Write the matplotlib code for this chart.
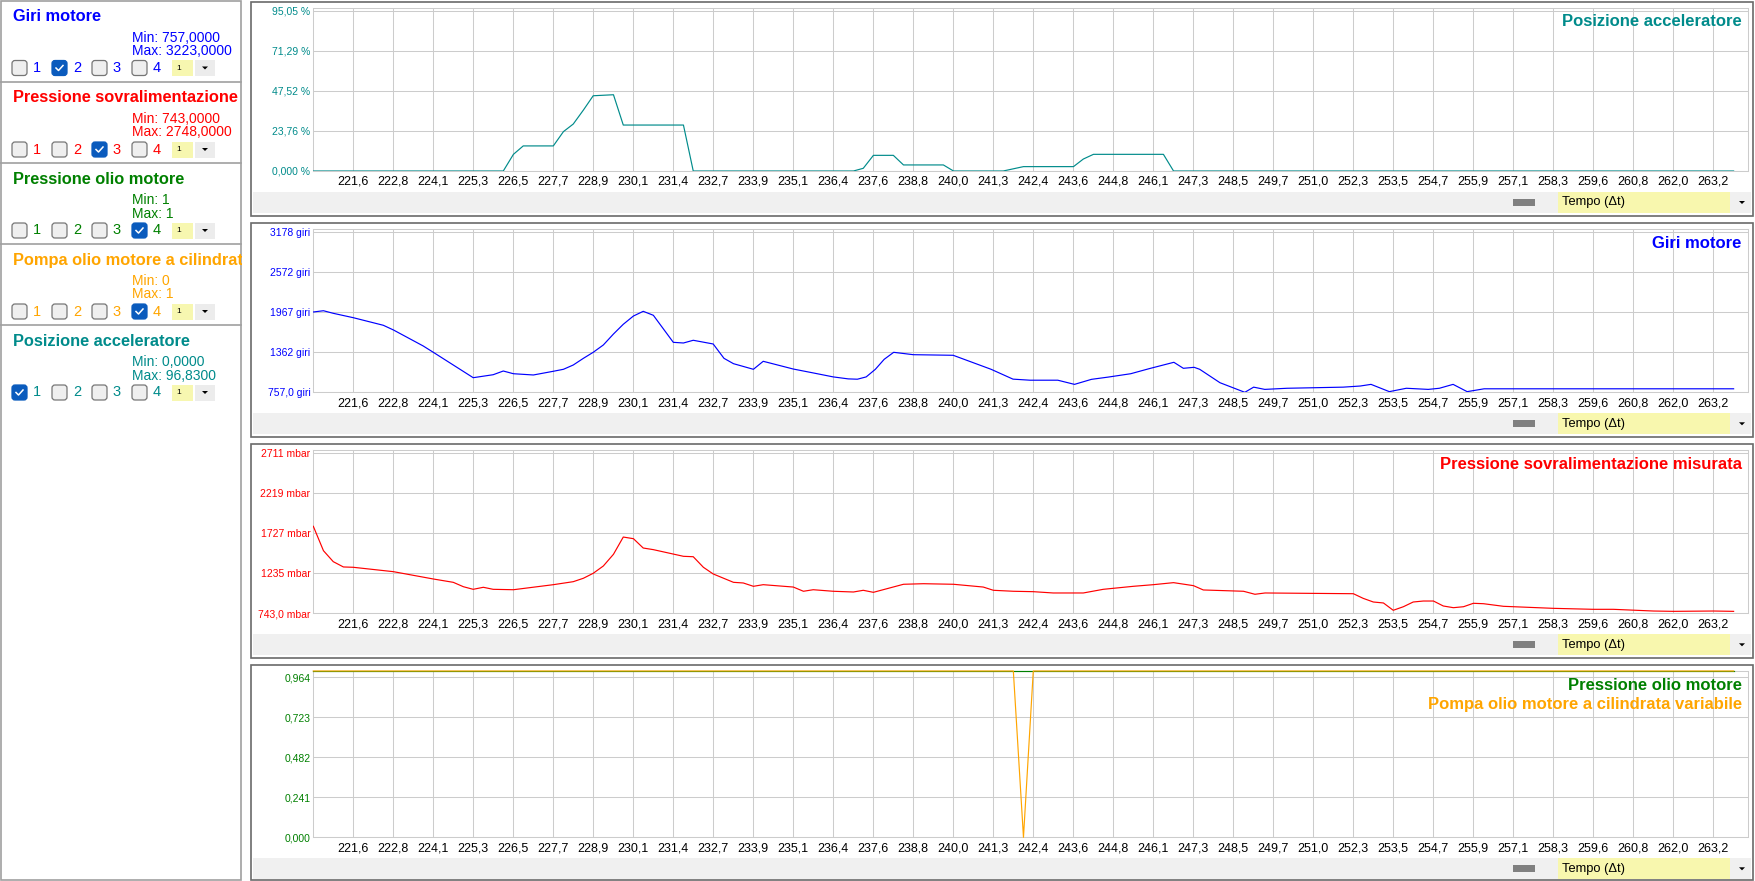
import matplotlib
matplotlib.use('Agg')
import matplotlib.pyplot as plt
from matplotlib.patches import Rectangle, FancyBboxPatch, Polygon
from matplotlib.transforms import ScaledTranslation

plt.rcParams['font.family'] = ['Liberation Sans', 'DejaVu Sans']

# ---- data ----
TICK_LABELS = ['221,6', '222,8', '224,1', '225,3', '226,5', '227,7', '228,9', '230,1', '231,4',
               '232,7', '233,9', '235,1', '236,4', '237,6', '238,8', '240,0', '241,3', '242,4',
               '243,6', '244,8', '246,1', '247,3', '248,5', '249,7', '251,0', '252,3', '253,5',
               '254,7', '255,9', '257,1', '258,3', '259,6', '260,8', '262,0', '263,2']
T_MIN, T_MAX = 220.38, 264.27

# Posizione acceleratore (%)
acc_t = [220.39, 226.20, 226.51, 226.81, 227.73, 228.04, 228.34, 228.65, 228.95, 229.57, 229.87,
         231.71, 232.01, 236.91, 237.21, 237.52, 238.13, 238.44, 239.66, 239.97, 241.49, 242.11,
         243.64, 243.94, 244.25, 246.39, 246.70, 263.83]
acc_v = [0, 0, 9.9, 14.9, 14.9, 23.4, 27.9, 36.2, 44.7, 45.3, 27.3,
         27.3, 0, 0, 1.6, 9.3, 9.3, 3.6, 3.6, 0, 0, 2.6,
         2.6, 7.1, 9.9, 9.9, 0, 0]

# Giri motore (giri)
rpm_t = [220.39, 220.70, 221.00, 221.61, 222.53, 222.84, 223.75, 224.06, 225.28, 225.89, 226.20,
         226.51, 227.12, 227.73, 228.04, 228.34, 228.65, 228.95, 229.26, 229.57, 229.87, 230.18,
         230.48, 230.79, 231.10, 231.40, 231.71, 232.01, 232.62, 232.95, 233.24, 233.85, 234.15,
         235.07, 235.68, 236.29, 236.75, 237.03, 237.30, 237.58, 237.85, 238.14, 238.74, 239.96,
         241.12, 241.79, 242.31, 243.16, 243.67, 244.19, 244.70, 245.39, 245.95, 246.71, 247.00,
         247.33, 247.50, 248.12, 248.88, 249.15, 249.49, 250.17, 251.89, 252.41, 252.74, 253.30,
         253.82, 254.49, 254.83, 255.25, 255.68, 256.20, 258.73, 263.83]
rpm_v = [1972, 1991, 1952, 1886, 1771, 1700, 1458, 1362, 978, 1023, 1079,
         1038, 1019, 1075, 1105, 1170, 1271, 1362, 1473, 1639, 1786, 1911,
         1982, 1922, 1714, 1513, 1503, 1544, 1488, 1271, 1190, 1105, 1226,
         1109, 1050, 990, 960, 955, 990, 1105, 1256, 1362, 1326, 1317,
         1105, 956, 940, 940, 877, 953, 987, 1038, 1114, 1211, 1120,
         1135, 1105, 902, 757, 835, 801, 818, 835, 852, 877, 767,
         818, 801, 818, 877, 767, 810, 810, 810]

# Pressione sovralimentazione misurata (mbar)
prs_t = [220.39, 220.70, 221.00, 221.31, 221.61, 222.84, 224.06, 224.67, 224.98, 225.28, 225.59,
         225.89, 226.51, 227.73, 228.34, 228.65, 228.95, 229.26, 229.57, 229.87, 230.18, 230.48,
         230.79, 231.71, 232.01, 232.32, 232.62, 233.24, 233.54, 233.85, 234.15, 235.07, 235.38,
         235.68, 236.29, 236.91, 237.21, 237.52, 238.44, 239.05, 239.97, 240.88, 241.19, 241.80,
         242.41, 243.02, 243.94, 244.55, 245.47, 246.08, 246.70, 247.31, 247.61, 248.84, 249.19,
         249.50, 252.20, 252.50, 252.81, 253.12, 253.42, 253.73, 254.03, 254.34, 254.65, 254.95,
         255.26, 255.57, 255.87, 256.18, 256.79, 258.32, 259.54, 260.15, 261.38, 261.99, 263.22,
         263.83]
prs_v = [1813, 1513, 1378, 1313, 1309, 1255, 1165, 1124, 1070, 1038, 1063,
         1038, 1033, 1095, 1132, 1174, 1235, 1325, 1469, 1681, 1661, 1546,
         1526, 1444, 1439, 1309, 1227, 1124, 1116, 1075, 1095, 1066, 1014,
         1033, 1014, 1005, 1026, 1001, 1100, 1107, 1100, 1066, 1026, 1014,
         1009, 993, 993, 1038, 1075, 1095, 1120, 1083, 1030, 1014, 977,
         993, 984, 927, 882, 870, 780, 824, 882, 894, 894, 833,
         812, 824, 866, 861, 829, 804, 792, 792, 771, 767, 771,
         767]

# Pressione olio motore / Pompa olio motore a cilindrata variabile
oil_t = [220.39, 263.83]
oil_v = [1, 1]
pump_t = [220.39, 241.80, 242.11, 242.41, 263.83]
pump_v = [1, 1, 0, 1, 1]

# sidebar contents
SB_TITLES = ['Giri motore', 'Pressione sovralimentazione', 'Pressione olio motore',
             'Pompa olio motore a cilindrata variabile', 'Posizione acceleratore']
SB_MIN = ['757,0000', '743,0000', '1', '0', '0,0000']
SB_MAX = ['3223,0000', '2748,0000', '1', '1', '96,8300']
SB_CHECKED = [2, 3, 4, 4, 1]

BLUE, RED, GREEN, ORANGE, TEAL = '#0000ff', '#ff0000', '#008000', '#ffa500', '#008b8b'
SB_COLORS = [BLUE, RED, GREEN, ORANGE, TEAL]

W, H = 1755, 881
fig = plt.figure(figsize=(W / 100, H / 100), dpi=100)
fig.patch.set_facecolor('white')


def px_axes(x0, y0, x1, y1, z=1):
    a = fig.add_axes([x0 / W, 1 - y1 / H, (x1 - x0) / W, (y1 - y0) / H], zorder=z)
    return a


def chrome_axes(x0, y0, x1, y1, z=0):
    a = px_axes(x0, y0, x1, y1, z)
    a.set_xlim(x0, x1)
    a.set_ylim(y1, y0)
    a.axis('off')
    return a


ui = chrome_axes(0, 0, W, H, 0)
sb = chrome_axes(0, 0, 242, H, 1)

# ---- sidebar ----
sb.add_patch(Rectangle((0.5, 0.5), 240.5, 879.5, fill=False, ec='#a0a0a0', lw=1.2))
sec_tops = [0.5, 82, 163, 244, 325]
for i, top in enumerate(sec_tops):
    c = SB_COLORS[i]
    if i > 0:
        sb.plot([0, 241], [top, top], color='#a0a0a0', lw=1.2)
    sb.text(13, top + 16, SB_TITLES[i], color=c, fontsize=11.8, fontweight='bold',
            va='center', ha='left', clip_on=True)
    sb.text(132, top + 37, 'Min: ' + SB_MIN[i], color=c, fontsize=10, va='center')
    sb.text(132, top + 50.5, 'Max: ' + SB_MAX[i], color=c, fontsize=10, va='center')
    yc = top + 67.5
    for k in range(4):
        x = 12 + 40 * k
        checked = (k + 1) == SB_CHECKED[i]
        sb.add_patch(FancyBboxPatch((x, yc - 7.5), 15, 15,
                                    boxstyle='round,pad=0,rounding_size=3',
                                    fc='#0a5bbd' if checked else '#efefef',
                                    ec='#0a5bbd' if checked else '#767676', lw=0.9))
        if checked:
            sb.plot([x + 4, x + 6.5, x + 11], [yc, yc + 2.5, yc - 2.5], color='white', lw=1.1)
        sb.text(x + 25, yc, str(k + 1), color=c, fontsize=10.5, va='center', ha='center')
    sb.add_patch(Rectangle((172, yc - 8), 21, 16, fc='#f7f7b0', ec='none'))
    sb.text(176, yc, '1', fontsize=6, va='center', color='black')
    sb.add_patch(Rectangle((195, yc - 8), 20, 16, fc='#ececec', ec='none'))
    sb.add_patch(Polygon([(202, yc - 1.5), (208, yc - 1.5), (205, yc + 1.5)], fc='black', ec='none'))

# ---- chart panels ----
panels = [
    dict(bt=1.5, pt=8, pb=171, bb=215.5, ylim=(0, 96.83),
         ylabels=['0,000 %', '23,76 %', '47,52 %', '71,29 %', '95,05 %'], lab_color=TEAL,
         series=[(acc_t, acc_v, TEAL)], titles=[('Posizione acceleratore', TEAL)]),
    dict(bt=222.5, pt=229.3, pb=392.3, bb=436.5, ylim=(757, 3223),
         ylabels=['757,0 giri', '1362 giri', '1967 giri', '2572 giri', '3178 giri'], lab_color=BLUE,
         series=[(rpm_t, rpm_v, BLUE)], titles=[('Giri motore', BLUE)]),
    dict(bt=443.5, pt=450.3, pb=613.3, bb=657.5, ylim=(743, 2748),
         ylabels=['743,0 mbar', '1235 mbar', '1727 mbar', '2219 mbar', '2711 mbar'], lab_color=RED,
         series=[(prs_t, prs_v, RED)], titles=[('Pressione sovralimentazione misurata', RED)]),
    dict(bt=664.5, pt=671, pb=837.3, bb=879.5, ylim=(0, 1),
         ylabels=['0,000', '0,241', '0,482', '0,723', '0,964'], lab_color=GREEN,
         series=[(oil_t, oil_v, GREEN), (pump_t, pump_v, ORANGE)],
         titles=[('Pressione olio motore', GREEN),
                 ('Pompa olio motore a cilindrata variabile', ORANGE)]),
]

tick_pos = [221.6 + i * (263.2 - 221.6) / (len(TICK_LABELS) - 1) for i in range(len(TICK_LABELS))]
label_shift = ScaledTranslation(0, -5.7 / 100, fig.dpi_scale_trans)

for p in panels:
    # frame, bottom bar, time selector
    ui.add_patch(Rectangle((251, p['bt']), 1502.5, p['bb'] - p['bt'], fill=False,
                           ec='#6a6a6a', lw=1.2))
    bar_top = p['pb'] + 21
    ui.add_patch(Rectangle((253, bar_top), 1498, 21, fc='#f0f0f0', ec='none'))
    ui.add_patch(Rectangle((1513, bar_top + 7), 22, 6.5, fc='#808080', ec='none'))
    ui.add_patch(Rectangle((1557.7, bar_top), 172.3, 21, fc='#f8f7ae', ec='none'))
    ui.text(1562, bar_top + 10.5, 'Tempo (\u0394t)', fontsize=9.3, va='center', color='black')
    yc = bar_top + 10.5
    ui.add_patch(Polygon([(1739, yc - 1.5), (1745, yc - 1.5), (1742, yc + 1.5)], fc='black', ec='none'))

    ax = px_axes(313, p['pt'], 1748, p['pb'], 2)
    ax.set_facecolor('white')
    for t, v, c in p['series']:
        ax.plot(t, v, color=c, lw=0.85, clip_on=(p['ylim'] != (0, 1)), zorder=3)
    ax.set_xlim(T_MIN, T_MAX)
    ymin, ymax = p['ylim']
    height = p['pb'] - p['pt']
    step = (ymax - ymin) * 40 / height
    ax.set_ylim(ymin, ymax)
    ax.set_yticks([ymin + k * step for k in range(len(p['ylabels']))])
    ax.set_yticklabels(p['ylabels'], fontsize=7.5, color=p['lab_color'])
    for lab in ax.get_yticklabels():
        lab.set_transform(lab.get_transform() + label_shift)
    ax.set_xticks(tick_pos)
    ax.set_xticklabels(TICK_LABELS, fontsize=9, color='black')
    ax.tick_params(axis='both', length=0)
    ax.tick_params(axis='y', pad=1.8)
    ax.tick_params(axis='x', pad=3.6)
    ax.grid(True, color='#cccccc', lw=0.75)
    ax.set_axisbelow(True)
    for s in ax.spines.values():
        s.set_color('#cccccc')
        s.set_linewidth(0.75)
    for j, (title, c) in enumerate(p['titles']):
        ax.annotate(title, xy=(1, 1), xycoords='axes fraction', xytext=(-6.3, -14 - 20 * j),
                    textcoords='offset pixels', ha='right', va='center', color=c,
                    fontsize=12, fontweight='bold')

fig.savefig('out.png', dpi=100, facecolor='white')
